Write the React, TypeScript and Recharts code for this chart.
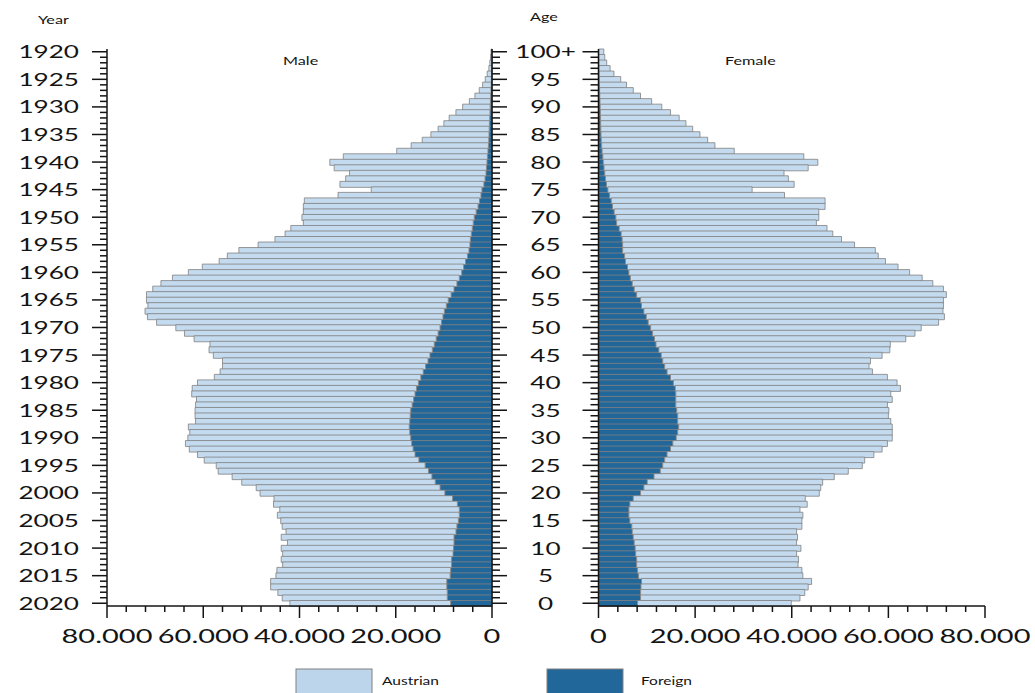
import { Bar, BarChart, XAxis, YAxis } from 'recharts';

// rows go from the top (age 100+, born 1920) down to age 0 (born 2020)
const ages = [
  100, 99, 98, 97, 96, 95, 94, 93, 92, 91,
  90, 89, 88, 87, 86, 85, 84, 83, 82, 81,
  80, 79, 78, 77, 76, 75, 74, 73, 72, 71,
  70, 69, 68, 67, 66, 65, 64, 63, 62, 61,
  60, 59, 58, 57, 56, 55, 54, 53, 52, 51,
  50, 49, 48, 47, 46, 45, 44, 43, 42, 41,
  40, 39, 38, 37, 36, 35, 34, 33, 32, 31,
  30, 29, 28, 27, 26, 25, 24, 23, 22, 21,
  20, 19, 18, 17, 16, 15, 14, 13, 12, 11,
  10, 9, 8, 7, 6, 5, 4, 3, 2, 1,
  0
];

// total population per age (Austrian + foreign)
const maleTotal = [
  200, 300, 450, 650, 1000, 1400, 1950, 2650, 3550, 4700,
  6100, 7500, 8900, 10000, 11200, 12700, 14500, 16800, 19800, 30900,
  33700, 32800, 29600, 30400, 31600, 25100, 32000, 39000, 39200, 39200,
  39500, 39200, 41800, 43000, 45100, 48600, 52600, 55000, 56700, 60200,
  63100, 66400, 68800, 70500, 71800, 71800, 71500, 72100, 71600, 69700,
  65700, 63900, 61900, 58600, 58800, 57900, 56000, 56000, 56500, 57700,
  61200, 62300, 62400, 61400, 61600, 61700, 61700, 61600, 63100, 62800,
  63200, 63700, 62900, 61200, 59800, 57300, 56900, 54000, 52000, 49000,
  48200, 45300, 45400, 44100, 44600, 43900, 43600, 42800, 43800, 42500,
  43800, 43500, 43800, 43500, 44700, 44900, 46000, 46000, 44500, 43600,
  42000
];

const maleForeign = [
  20, 30, 50, 70, 100, 130, 170, 220, 280, 330,
  380, 420, 480, 530, 580, 620, 680, 750, 850, 950,
  1050, 1150, 1250, 1450, 1700, 2100, 2300, 2600, 2900, 3300,
  3700, 3900, 4100, 4300, 4500, 4600, 4800, 5100, 5500, 5900,
  6300, 6800, 7300, 7900, 8500, 9100, 9500, 9900, 10200, 10500,
  10800, 11200, 11600, 12000, 12400, 12900, 13300, 13800, 14300, 14800,
  15300, 15700, 16000, 16300, 16600, 16900, 17000, 17100, 17200, 17100,
  16900, 16700, 16400, 16000, 15200, 13900, 13200, 12500, 11800, 10800,
  9800, 8200, 7200, 6800, 6800, 7000, 7300, 7500, 7900, 7900,
  8000, 8100, 8400, 8400, 8600, 8700, 9400, 9400, 9300, 9300,
  8600
];

const femaleTotal = [
  1100, 1300, 1700, 2400, 3200, 4600, 5800, 7200, 8700, 11000,
  13100, 14900, 16700, 18100, 19500, 21000, 22600, 24100, 28100, 42500,
  45400, 43400, 38400, 39300, 40500, 31800, 38500, 46900, 46900, 45600,
  45600, 45100, 47300, 48500, 50300, 53000, 57300, 57900, 59400, 62000,
  64400, 67000, 69200, 71400, 72000, 71400, 71400, 71300, 71600, 70400,
  66800, 65500, 63600, 60400, 60300, 58700, 56300, 56000, 56700, 59800,
  61800, 62500, 60500, 60800, 59800, 60100, 60000, 60500, 60800, 60800,
  60800, 59800, 58700, 57000, 55100, 54600, 51700, 48800, 46400, 46000,
  45700, 42800, 43200, 41700, 42300, 42100, 42100, 41000, 41200, 41000,
  41900, 41000, 41400, 41300, 42100, 42300, 44100, 43400, 42700, 41700,
  39900
];

const femaleForeign = [
  30, 40, 60, 80, 110, 150, 190, 230, 270, 310,
  350, 390, 420, 450, 480, 520, 580, 650, 750, 900,
  1000, 1150, 1300, 1450, 1650, 1950, 2300, 2650, 2900, 3250,
  3600, 3750, 4300, 4700, 4900, 5000, 5000, 5400, 5600, 6000,
  6300, 6600, 7000, 7400, 7900, 8700, 8900, 9400, 9900, 10300,
  10800, 11200, 11600, 11900, 12500, 13000, 13300, 13700, 14200, 14900,
  15500, 15900, 16000, 16000, 16000, 16200, 16400, 16400, 16600, 16400,
  16100, 15400, 14900, 14200, 13700, 13300, 12800, 11500, 10100, 9400,
  8700, 7200, 6500, 6300, 6300, 6500, 6900, 7000, 7200, 7400,
  7600, 7700, 7900, 7900, 8100, 8300, 8900, 8800, 8700, 8700,
  8100
];

// labels every 5 rows, top to bottom
const yearLabels = [
  '1920', '1925', '1930', '1935', '1940', '1945', '1950', '1955', '1960', '1965', '1970',
  '1975', '1980', '1985', '1990', '1995', '2000', '2005', '2010', '2015', '2020'
];
const ageLabels = [
  '100+', '95', '90', '85', '80', '75', '70', '65', '60', '55', '50',
  '45', '40', '35', '30', '25', '20', '15', '10', '5', '0'
];

const xTicks = [
  0, 4000, 8000, 12000, 16000, 20000, 24000, 28000, 32000, 36000, 40000,
  44000, 48000, 52000, 56000, 60000, 64000, 68000, 72000, 76000, 80000
];

const LIGHT = '#c4dbef';
const DARK = '#22679a';
const EDGE = '#808080';
const INK = '#141414';
const FONT = 'Lato, "DejaVu Sans", sans-serif';
const STRETCH = 1.45;

const data = ages.map((age, i) => ({
  age,
  maleForeign: maleForeign[i],
  maleAustrian: maleTotal[i] - maleForeign[i],
  femaleForeign: femaleForeign[i],
  femaleAustrian: femaleTotal[i] - femaleForeign[i]
}));

const fmt = (v: number) => (v === 0 ? '0' : `${v / 1000}.000`);

function YearTick(props: any) {
  const { x, y, payload } = props;
  const age = payload.value as number;
  const major = age % 5 === 0;
  return (
    <g>
      <line x1={x - (major ? 15 : 7)} x2={x} y1={y} y2={y} stroke={INK} strokeWidth={1.5} />
      {major && (
        <text
          transform={`translate(${x - 28},${y}) scale(${STRETCH},1)`}
          textAnchor="end"
          dy="0.36em"
          fontSize={18}
          fontFamily={FONT}
          fill={INK}
        >
          {yearLabels[(100 - age) / 5]}
        </text>
      )}
    </g>
  );
}

function CenterTick(props: any) {
  const { x, y, payload } = props;
  const major = (payload.value as number) % 5 === 0;
  return <line x1={x} x2={x + (major ? 15 : 8)} y1={y} y2={y} stroke={INK} strokeWidth={1.5} />;
}

function AgeTick(props: any) {
  const { x, y, payload } = props;
  const age = payload.value as number;
  const major = age % 5 === 0;
  return (
    <g>
      <line x1={x - (major ? 16 : 8)} x2={x} y1={y} y2={y} stroke={INK} strokeWidth={1.5} />
      {major && (
        <text
          transform={`translate(${x - 53},${y}) scale(${STRETCH},1)`}
          textAnchor="middle"
          dy="0.36em"
          fontSize={18}
          fontFamily={FONT}
          fill={INK}
        >
          {ageLabels[(100 - age) / 5]}
        </text>
      )}
    </g>
  );
}

function ValueTick(props: any) {
  const { x, y, payload } = props;
  const v = payload.value as number;
  const major = v % 20000 === 0;
  return (
    <g>
      <line x1={x} x2={x} y1={y} y2={y + (major ? 12 : 6)} stroke={INK} strokeWidth={1.5} />
      {major && (
        <text
          transform={`translate(${x},${y + 30}) scale(${STRETCH},1)`}
          textAnchor="middle"
          dy="0.36em"
          fontSize={20}
          fontFamily={FONT}
          fill={INK}
        >
          {fmt(v)}
        </text>
      )}
    </g>
  );
}

const axisLine = { stroke: INK, strokeWidth: 1.5 };

function Label({ x, y, size, children }: { x: number; y: number; size: number; children: string }) {
  return (
    <text transform={`translate(${x},${y}) scale(1.35,1)`} fontSize={size} fontFamily={FONT} fill={INK}>
      {children}
    </text>
  );
}

export default function App() {
  return (
    <div style={{ position: 'absolute', left: 0, top: 0, width: 1035, height: 693, background: '#fff' }}>
      <div style={{ position: 'absolute', left: 0, top: 0 }}>
        <BarChart
          width={510}
          height={660}
          data={data}
          layout="vertical"
          margin={{ top: 49, right: 0, bottom: 0, left: 0 }}
          barCategoryGap={0}
          barGap={0}
        >
          <XAxis
            type="number"
            reversed
            domain={[0, 80000]}
            ticks={xTicks}
            interval={0}
            height={54}
            tickSize={0}
            tickMargin={0}
            axisLine={axisLine}
            tickLine={false}
            tick={<ValueTick />}
          />
          <YAxis
            yAxisId="l"
            type="category"
            dataKey="age"
            width={107}
            interval={0}
            tickSize={0}
            tickMargin={0}
            axisLine={axisLine}
            tickLine={false}
            tick={<YearTick />}
          />
          <YAxis
            yAxisId="r"
            orientation="right"
            type="category"
            dataKey="age"
            width={18}
            interval={0}
            tickSize={0}
            tickMargin={0}
            axisLine={axisLine}
            tickLine={false}
            tick={<CenterTick />}
          />
          <Bar yAxisId="l" dataKey="maleForeign" stackId="m" fill={DARK} stroke={EDGE} strokeWidth={0.8} isAnimationActive={false} />
          <Bar yAxisId="l" dataKey="maleAustrian" stackId="m" fill={LIGHT} stroke={EDGE} strokeWidth={0.8} isAnimationActive={false} />
        </BarChart>
      </div>
      <div style={{ position: 'absolute', left: 510, top: 0 }}>
        <BarChart
          width={525}
          height={660}
          data={data}
          layout="vertical"
          margin={{ top: 49, right: 50, bottom: 0, left: 0 }}
          barCategoryGap={0}
          barGap={0}
        >
          <XAxis
            type="number"
            domain={[0, 80000]}
            ticks={xTicks}
            interval={0}
            height={54}
            tickSize={0}
            tickMargin={0}
            axisLine={axisLine}
            tickLine={false}
            tick={<ValueTick />}
          />
          <YAxis
            type="category"
            dataKey="age"
            width={88.5}
            interval={0}
            tickSize={0}
            tickMargin={0}
            axisLine={axisLine}
            tickLine={false}
            tick={<AgeTick />}
          />
          <Bar dataKey="femaleForeign" stackId="f" fill={DARK} stroke={EDGE} strokeWidth={0.8} isAnimationActive={false} />
          <Bar dataKey="femaleAustrian" stackId="f" fill={LIGHT} stroke={EDGE} strokeWidth={0.8} isAnimationActive={false} />
        </BarChart>
      </div>
      <svg width={1035} height={693} style={{ position: 'absolute', left: 0, top: 0, pointerEvents: 'none' }}>
        <Label x={38} y={24} size={12}>Year</Label>
        <Label x={530} y={21} size={12}>Age</Label>
        <Label x={283} y={65} size={12}>Male</Label>
        <Label x={725} y={65} size={12}>Female</Label>
        <rect x={296} y={669} width={76} height={26} fill="#bdd5ea" stroke={EDGE} strokeWidth={1} />
        <Label x={382} y={685} size={11.5}>Austrian</Label>
        <rect x={547} y={669} width={76} height={26} fill={DARK} stroke={EDGE} strokeWidth={1} />
        <Label x={641} y={685} size={11.5}>Foreign</Label>
      </svg>
    </div>
  );
}
